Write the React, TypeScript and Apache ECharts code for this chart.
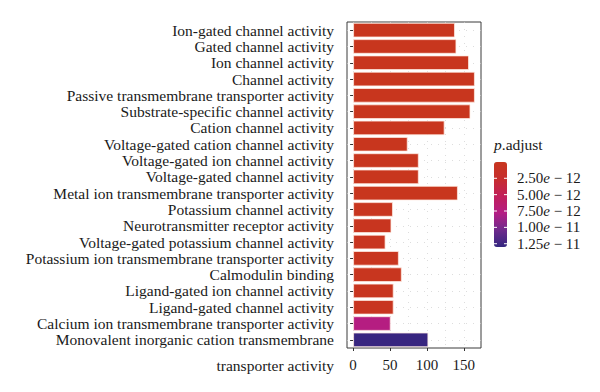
import React, { useEffect, useRef } from "react";
import * as echarts from "echarts";

const categories = [
  "Ion-gated channel activity",
  "Gated channel activity",
  "Ion channel activity",
  "Channel activity",
  "Passive transmembrane transporter activity",
  "Substrate-specific channel activity",
  "Cation channel activity",
  "Voltage-gated cation channel activity",
  "Voltage-gated ion channel activity",
  "Voltage-gated channel activity",
  "Metal ion transmembrane transporter activity",
  "Potassium channel activity",
  "Neurotransmitter receptor activity",
  "Voltage-gated potassium channel activity",
  "Potassium ion transmembrane transporter activity",
  "Calmodulin binding",
  "Ligand-gated ion channel activity",
  "Ligand-gated channel activity",
  "Calcium ion transmembrane transporter activity",
  "Monovalent inorganic cation transmembrane\ntransporter activity",
];

const counts = [138, 140, 157, 165, 165, 159, 124, 74, 89, 89, 142, 54, 52, 44, 62, 66, 55, 55, 51, 102];

const pAdjust = [
  2.1e-14, 2.4e-14, 1.5e-14, 1.0e-14, 1.0e-14, 1.8e-14, 4.5e-14, 9.0e-14, 6.0e-14, 6.5e-14,
  3.5e-14, 1.2e-13, 2.0e-13, 3.0e-13, 1.5e-13, 1.0e-13, 2.5e-13, 2.8e-13, 7.6e-12, 1.28e-11,
];

const xTicks = [0, 50, 100, 150];
const xGrid = [0, 25, 50, 75, 100, 125, 150];

const legendTicks = [2.5e-12, 5e-12, 7.5e-12, 1e-11, 1.25e-11];
const legendMantissa = ["2.50", "5.00", "7.50", "1.00", "1.25"];
const legendExponent = ["12", "12", "12", "11", "11"];

const pMin = 1e-14;
const pMax = 1.3e-11;
const palette = ["#C8361E", "#C62E2E", "#C11F5A", "#B41D84", "#6E2A8C", "#33267F"];

const FONT = "'Liberation Serif', 'DejaVu Serif', serif";

export default function App() {
  const ref = useRef<HTMLDivElement>(null);
  useEffect(() => {
    document.body.style.margin = "0";
    const chart = echarts.init(ref.current!, undefined, { renderer: "svg" });

    const barTop = 162;
    const barH = 85;
    const barLeft = 494;
    const barW = 13;
    const yOf = (v: number) => barTop + ((v - pMin) / (pMax - pMin)) * barH;

    const graphics: any[] = [
      {
        type: "text",
        x: barLeft,
        y: 144,
        style: {
          text: "{i|p}.adjust",
          fontFamily: FONT,
          fontSize: 15.5,
          fill: "#1a1a1a",
          verticalAlign: "middle",
          rich: { i: { fontStyle: "italic", fontFamily: FONT, fontSize: 15.5, fill: "#1a1a1a" } },
        },
      },
    ];
    legendTicks.forEach((t, i) => {
      const y = yOf(t);
      graphics.push({
        type: "line",
        shape: { x1: barLeft, y1: y, x2: barLeft + 3, y2: y },
        style: { stroke: "#ffffff", lineWidth: 1 },
        z: 100,
      });
      graphics.push({
        type: "line",
        shape: { x1: barLeft + barW - 3, y1: y, x2: barLeft + barW, y2: y },
        style: { stroke: "#ffffff", lineWidth: 1 },
        z: 100,
      });
      graphics.push({
        type: "text",
        x: 517,
        y,
        style: {
          text: `${legendMantissa[i]}{i|e} \u2212 ${legendExponent[i]}`,
          fontFamily: FONT,
          fontSize: 15,
          fill: "#1a1a1a",
          verticalAlign: "middle",
          rich: { i: { fontStyle: "italic", fontFamily: FONT, fontSize: 15, fill: "#1a1a1a" } },
        },
      });
    });

    chart.setOption({
      animation: false,
      grid: {
        left: 347,
        top: 22,
        width: 134,
        height: 326,
        show: true,
        borderColor: "#3a3a3a",
        borderWidth: 1,
        backgroundColor: "#ffffff",
        outerBoundsMode: "none",
      },
      xAxis: {
        type: "value",
        min: -8.25,
        max: 173.25,
        axisLine: { show: false },
        axisTick: { show: true, customValues: xTicks, length: 3, lineStyle: { color: "#333" } },
        axisLabel: {
          customValues: xTicks,
          fontFamily: FONT,
          fontSize: 15,
          color: "#1a1a1a",
          margin: 9,
        },
        splitLine: { show: false },
      },
      yAxis: {
        type: "category",
        data: categories,
        inverse: true,
        axisLine: { show: false },
        axisTick: { show: true, alignWithLabel: true, length: 3, lineStyle: { color: "#333" } },
        axisLabel: {
          interval: 0,
          fontFamily: FONT,
          fontSize: 15.5,
          color: "#1a1a1a",
          margin: 13,
          lineHeight: 26,
          formatter: (v: string) => (v.includes("\n") ? "\n" + v : v),
        },
        splitLine: { show: false },
      },
      visualMap: {
        type: "continuous",
        seriesIndex: 0,
        dimension: 2,
        min: pMin,
        max: pMax,
        inverse: true,
        orient: "vertical",
        left: barLeft,
        top: barTop,
        itemWidth: barW,
        itemHeight: barH,
        padding: 0,
        text: null,
        calculable: false,
        showLabel: false,
        inRange: { color: palette },
      },
      graphic: graphics,
      series: [
        {
          type: "bar",
          data: counts.map((c, i) => [c, categories[i], pAdjust[i]]),
          encode: { x: 0, y: 1 },
          barWidth: "90%",
          itemStyle: { borderColor: "rgba(255,235,225,0.75)", borderWidth: 1 },
          z: 5,
        },
        {
          type: "line",
          data: [],
          silent: true,
          z: 1,
          markLine: {
            silent: true,
            z: 1,
            symbol: "none",
            label: { show: false },
            lineStyle: { color: "#cfcfcf", width: 0.7, type: [1, 6] },
            data: [
              ...xGrid.map((x) => ({ xAxis: x })),
              ...categories.map((_, i) => ({ yAxis: i })),
            ],
          },
        },
      ],
    });
    return () => chart.dispose();
  }, []);
  return (
    <div
      ref={ref}
      style={{ position: "absolute", left: 0, top: 0, width: 600, height: 392 }}
    />
  );
}
